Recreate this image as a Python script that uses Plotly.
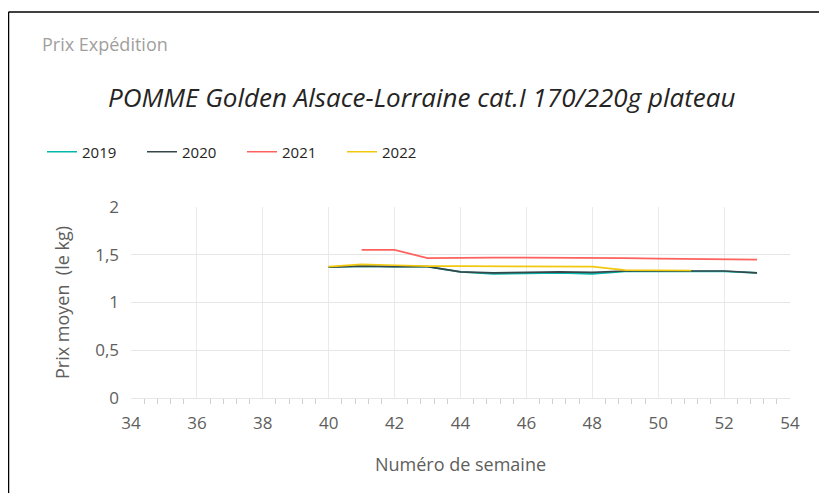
import plotly.graph_objects as go

# weekly shipping prices (EUR/kg)
weeks_2019 = list(range(40, 54))
prix_2019 = [1.37, 1.38, 1.375, 1.375, 1.32, 1.30, 1.305, 1.31, 1.30, 1.325, 1.325, 1.325, 1.325, 1.31]

weeks_2020 = list(range(40, 54))
prix_2020 = [1.37, 1.38, 1.375, 1.375, 1.32, 1.31, 1.315, 1.32, 1.315, 1.33, 1.33, 1.33, 1.33, 1.31]

weeks_2021 = list(range(41, 54))
prix_2021 = [1.55, 1.55, 1.465, 1.47, 1.47, 1.47, 1.47, 1.47, 1.465, 1.46, 1.455, 1.455, 1.45]

weeks_2022 = list(range(40, 52))
prix_2022 = [1.375, 1.40, 1.39, 1.38, 1.38, 1.38, 1.38, 1.38, 1.375, 1.34, 1.335, 1.335]

series = [
    ("2019", weeks_2019, prix_2019, "#01B8AA"),
    ("2020", weeks_2020, prix_2020, "#374649"),
    ("2021", weeks_2021, prix_2021, "#FD625E"),
    ("2022", weeks_2022, prix_2022, "#F2C80F"),
]

FONT = "Open Sans"
GREY = "#605E5C"

fig = go.Figure()
for name, x, y, color in series:
    fig.add_trace(go.Scatter(x=x, y=y, name=name, mode="lines",
                             line=dict(color=color, width=1.7)))

# page has an 8px body margin, so the figure itself is offset by OFF
OFF = 8
W, H = 827 - OFF, 493 - OFF
L, R, T, B = 131 - OFF, 37, 207 - OFF, 95
pw, ph = W - L - R, H - T - B

def px(xp):
    # page pixel -> paper x
    return (xp - OFF - L) / pw

def py(yp):
    # page pixel -> paper y
    return (H - B - (yp - OFF)) / ph

fig.update_layout(
    width=W, height=H,
    margin=dict(l=L, r=R, t=T, b=B, autoexpand=False),
    paper_bgcolor="white", plot_bgcolor="white",
    separators=", ",
    font=dict(family=FONT, color=GREY),
    showlegend=True,
    legend=dict(orientation="h", x=px(42), y=py(152), xanchor="left", yanchor="middle",
                xref="paper", yref="paper", itemwidth=30,
                entrywidth=55, entrywidthmode="pixels",
                font=dict(size=15, color="#252423"), tracegroupgap=0),
    annotations=[
        dict(text="Prix Expédition", x=px(40), y=py(44), xref="paper", yref="paper",
             xanchor="left", yanchor="middle", showarrow=False,
             font=dict(size=18, color="#A19F9D")),
        dict(text="<i>POMME Golden Alsace-Lorraine cat.I 170/220g plateau</i>",
             x=px(421), y=py(97), xref="paper", yref="paper",
             xanchor="center", yanchor="middle", showarrow=False,
             font=dict(size=26, color="#252423")),
    ],
    shapes=[
        dict(type="line", xref="paper", yref="paper",
             x0=px(8.5), x1=px(8.5), y0=py(600), y1=py(12),
             line=dict(color="black", width=1.5), layer="below"),
        dict(type="line", xref="paper", yref="paper",
             x0=px(8.5), x1=px(900), y0=py(12), y1=py(12),
             line=dict(color="black", width=1.5), layer="below"),
    ],
)

fig.update_xaxes(
    range=[34, 54], dtick=2, tick0=34,
    showgrid=True, gridcolor="#EAEAEA", gridwidth=1,
    zeroline=False, showline=True, linecolor="#E6E6E6",
    ticks="", tickfont=dict(size=17, color=GREY), ticklabelstandoff=10,
    minor=dict(dtick=0.4, tick0=34, ticks="outside", ticklen=5, tickcolor="#D0D0D0", showgrid=False),
    title=dict(text="Numéro de semaine", font=dict(size=18, color=GREY), standoff=24),
)
fig.update_yaxes(
    range=[0, 2], dtick=0.5,
    showgrid=True, gridcolor="#E6E6E6", gridwidth=1,
    zeroline=False, showline=False,
    tickfont=dict(size=17, color=GREY), ticklabelstandoff=11,
    title=dict(text="Prix moyen  (le kg)", font=dict(size=18, color=GREY), standoff=20),
)

fig.write_html("out.html")
